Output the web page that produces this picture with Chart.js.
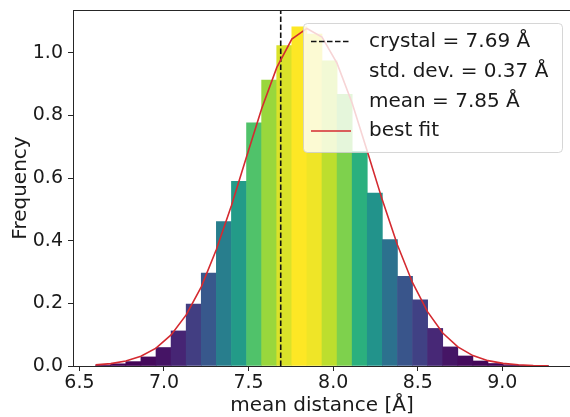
<!DOCTYPE html>
<html>
<head>
<meta charset="utf-8">
<script src="https://cdn.jsdelivr.net/npm/chart.js@4.4.1/dist/chart.umd.min.js"></script>
<style>
  html, body { margin: 0; padding: 0; background: #fff; overflow: hidden; }
  canvas { display: block; }
</style>
</head>
<body>
<canvas id="histChart" width="600" height="417"></canvas>
<script>
// histogram bin edges (mean distance, Å)
const binEdges = [6.5960, 6.6852, 6.7744, 6.8636, 6.9528, 7.0420, 7.1312, 7.2204, 7.3096, 7.3988,
  7.4880, 7.5772, 7.6664, 7.7556, 7.8448, 7.9340, 8.0232, 8.1124, 8.2016, 8.2908,
  8.3800, 8.4692, 8.5584, 8.6476, 8.7368, 8.8260, 8.9152, 9.0044, 9.0936, 9.1828, 9.2720];
// bar heights (normalised frequency), one per bin
const binHeights = [0.003, 0.007, 0.014, 0.029, 0.059, 0.112, 0.198, 0.297, 0.461, 0.590,
  0.777, 0.913, 1.023, 1.083, 1.060, 0.975, 0.868, 0.686, 0.552, 0.404,
  0.286, 0.211, 0.120, 0.061, 0.032, 0.016, 0.008, 0.004, 0.002, 0.001];
// best fit curve, read at the bin edges
const fitValues = [0.0035, 0.0076, 0.0157, 0.0309, 0.0571, 0.0993, 0.1632, 0.2530, 0.3718, 0.5129,
  0.6682, 0.8213, 0.9528, 1.0439, 1.0781, 1.0507, 0.9665, 0.8392, 0.6859, 0.5298,
  0.3865, 0.2660, 0.1727, 0.1054, 0.0610, 0.0332, 0.0171, 0.0083, 0.0038, 0.0016, 0.0007];
const crystalValue = 7.69;

const xTicks = [6.5, 7.0, 7.5, 8.0, 8.5, 9.0];
const yTicks = [0.0, 0.2, 0.4, 0.6, 0.8, 1.0];
const xRange = [6.4622, 9.4058];
const yRange = [0, 1.137];
const legendLabels = ['crystal = 7.69 Å', 'std. dev. = 0.37 Å', 'mean = 7.85 Å', 'best fit'];

const textColor = '#1a1a1a';
const axisColor = '#262626';
const fitColor = '#d42a30';
const fontFamily = "'DejaVu Sans', sans-serif";

// viridis colour map, linear between a few stops
const viridisStops = ['#440154', '#472d7b', '#3b528b', '#2c728e', '#21918c', '#28ae80', '#5ec962', '#addc30', '#fde725'];

function hexToRgb(hex) {
  return [1, 3, 5].map(i => parseInt(hex.slice(i, i + 2), 16));
}

function viridis(t) {
  t = Math.min(1, Math.max(0, t));
  let pos = t * (viridisStops.length - 1);
  let i = Math.min(Math.floor(pos), viridisStops.length - 2);
  let f = pos - i;
  let a = hexToRgb(viridisStops[i]);
  let b = hexToRgb(viridisStops[i + 1]);
  let c = a.map((v, k) => Math.round(v + (b[k] - v) * f));
  return `rgb(${c[0]}, ${c[1]}, ${c[2]})`;
}

// bars coloured by their height
const hMin = Math.min(...binHeights);
const hMax = Math.max(...binHeights);
const barColors = binHeights.map(h => viridis((h - hMin) / (hMax - hMin)));
const binCenters = binHeights.map((h, i) => (binEdges[i] + binEdges[i + 1]) / 2);

// top spine and the legend box (drawn over the bars, like matplotlib)
const framePlugin = {
  id: 'frame',
  afterDraw(chart) {
    const ctx = chart.ctx;
    const area = chart.chartArea;
    ctx.save();
    ctx.strokeStyle = axisColor;
    ctx.lineWidth = 1;
    ctx.beginPath();
    ctx.moveTo(area.left, Math.round(area.top) + 0.5);
    ctx.lineTo(area.right, Math.round(area.top) + 0.5);
    ctx.stroke();

    // legend
    const boxLeft = 303;
    const boxTop = area.top + 13;
    const boxW = 259;
    const boxH = 129;
    ctx.beginPath();
    ctx.roundRect(boxLeft + 0.5, Math.round(boxTop) + 0.5, boxW, boxH, 4);
    ctx.fillStyle = 'rgba(255, 255, 255, 0.8)';
    ctx.fill();
    ctx.strokeStyle = 'rgba(204, 204, 204, 0.8)';
    ctx.stroke();

    const rowY = [boxTop + 18.5, boxTop + 48.5, boxTop + 78.5, boxTop + 108];
    const handleX = [boxLeft + 8, boxLeft + 48];
    const textX = boxLeft + 66;

    ctx.lineWidth = 1.6;
    ctx.strokeStyle = '#111';
    ctx.setLineDash([5.5, 2.5]);
    ctx.beginPath();
    ctx.moveTo(handleX[0], rowY[0]);
    ctx.lineTo(handleX[1], rowY[0]);
    ctx.stroke();
    ctx.setLineDash([]);
    ctx.strokeStyle = fitColor;
    ctx.beginPath();
    ctx.moveTo(handleX[0], rowY[3]);
    ctx.lineTo(handleX[1], rowY[3]);
    ctx.stroke();

    ctx.fillStyle = textColor;
    ctx.font = `20px ${fontFamily}`;
    ctx.textBaseline = 'middle';
    ctx.textAlign = 'left';
    legendLabels.forEach((label, i) => ctx.fillText(label, textX, rowY[i]));
    ctx.restore();
  }
};

const tickFont = { family: fontFamily, size: 19, lineHeight: 1 };
const titleFont = { family: fontFamily, size: 20, lineHeight: 1 };

const ctx = document.getElementById('histChart').getContext('2d');
const histChart = new Chart(ctx, {
  type: 'bar',
  data: {
    datasets: [{
      type: 'line',
      label: 'best fit',
      data: binEdges.map((x, i) => ({ x: x, y: fitValues[i] })),
      borderColor: fitColor,
      borderWidth: 1.6,
      pointRadius: 0,
      tension: 0,
      fill: false,
      order: 1
    }, {
      type: 'line',
      label: 'crystal',
      data: [{ x: crystalValue, y: yRange[0] }, { x: crystalValue, y: yRange[1] }],
      borderColor: '#111',
      borderWidth: 1.6,
      borderDash: [5.5, 2.5],
      pointRadius: 0,
      fill: false,
      order: 2
    }, {
      type: 'bar',
      label: 'histogram',
      data: binCenters.map((x, i) => ({ x: x, y: binHeights[i] })),
      backgroundColor: barColors,
      barPercentage: 1,
      categoryPercentage: 1,
      borderWidth: 0,
      order: 3
    }]
  },
  options: {
    responsive: false,
    animation: false,
    layout: { padding: { left: 11, top: 10, right: 29, bottom: 1 } },
    plugins: {
      legend: { display: false },
      tooltip: { enabled: false }
    },
    scales: {
      x: {
        type: 'linear',
        min: xRange[0],
        max: xRange[1],
        offset: false,
        z: 1,
        afterBuildTicks: scale => { scale.ticks = xTicks.map(v => ({ value: v })); },
        grid: { display: true, offset: false, drawOnChartArea: false, drawTicks: true, tickLength: 5, tickColor: axisColor },
        border: { display: true, color: axisColor, width: 1 },
        ticks: { font: tickFont, color: textColor, padding: 3, maxRotation: 0, callback: v => v.toFixed(1) },
        title: { display: true, text: 'mean distance [Å]', font: titleFont, color: textColor, padding: { top: 0, bottom: 0 } }
      },
      y: {
        type: 'linear',
        min: yRange[0],
        max: yRange[1],
        z: 1,
        afterFit: scale => { scale.width = 62; scale.paddingTop = 0; scale.paddingBottom = 0; },
        afterBuildTicks: scale => { scale.ticks = yTicks.map(v => ({ value: v })); },
        grid: { display: true, drawOnChartArea: false, drawTicks: true, tickLength: 5, tickColor: axisColor },
        border: { display: true, color: axisColor, width: 1 },
        ticks: { font: tickFont, color: textColor, padding: 5, callback: v => v.toFixed(1) },
        title: { display: true, text: 'Frequency', font: titleFont, color: textColor, padding: { top: 0, bottom: 0 } }
      }
    }
  },
  plugins: [framePlugin]
});
</script>
</body>
</html>
